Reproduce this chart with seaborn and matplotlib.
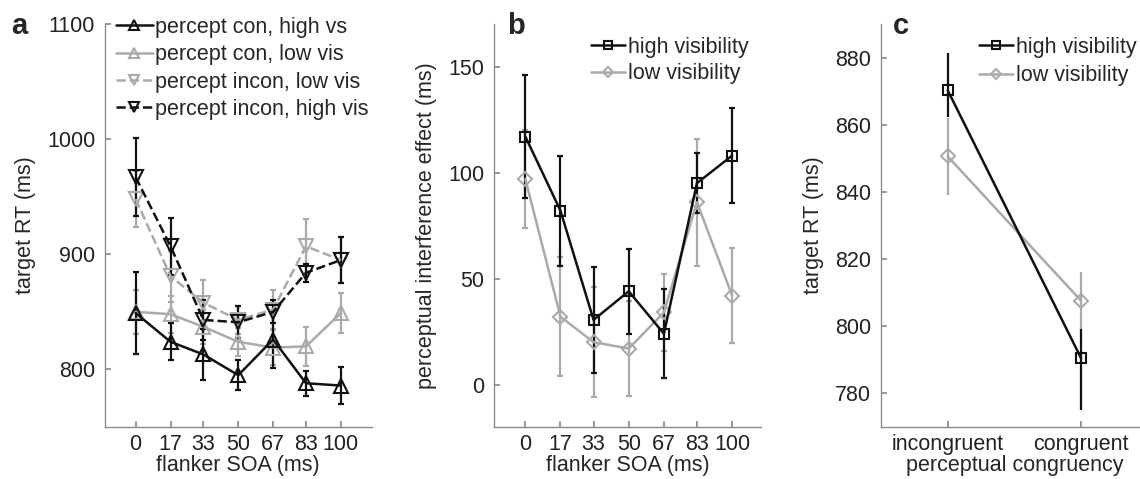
import matplotlib
matplotlib.use('Agg')
import matplotlib.pyplot as plt
import seaborn as sns
import numpy as np

# panel a/b x values (flanker SOA, ms)
soa = [0, 17, 33, 50, 67, 83, 100]
soa_labels = ['0', '17', '33', '50', '67', '83', '100']

# panel a: target RT (ms)
con_high = [849, 824, 813, 795, 826, 788, 786]
con_high_err = [36, 16, 22, 13, 25, 11, 16]
con_low = [850, 848, 837, 824, 819, 820, 849]
con_low_err = [19, 16, 15, 12, 15, 17, 17]
incon_low = [948, 881, 858, 843, 852, 907, 895]
incon_low_err = [24, 22, 20, 12, 17, 24, 20]
incon_high = [967, 907, 843, 841, 850, 884, 895]
incon_high_err = [34, 25, 17, 14, 10, 8, 20]

# panel b: perceptual interference effect (ms)
pie_high = [117, 82, 30.5, 44, 24, 95, 108]
pie_high_err = [29, 26, 25, 20, 21, 14, 22.5]
pie_low = [97, 32, 20, 17, 34, 86, 42]
pie_low_err = [23, 28, 26, 22.5, 18, 30, 22.5]

# panel c: target RT by perceptual congruency
cong_labels = ['incongruent', 'congruent']
c_high = [870.3, 790.5]
c_high_lo = [8, 15.5]
c_high_hi = [11.2, 8.8]
c_low = [850.6, 807.6]
c_low_lo = [11.4, 8.6]
c_low_hi = [11.4, 8.6]

BLACK = '#111111'
GRAY = '#aaaaaa'
SPINE = '#8c8c8c'
FS = 15.5

sns.set_theme(style='ticks')
plt.rcParams['font.family'] = ['Liberation Sans', 'DejaVu Sans']
plt.rcParams['font.size'] = FS

fig = plt.figure(figsize=(11.4, 4.79), dpi=100)
w, h, bot = 0.234, 0.841, 0.1086
ax_a = fig.add_axes([0.092, bot, w, h])
ax_b = fig.add_axes([0.4336, bot, w, h])
ax_c = fig.add_axes([0.7728, bot, w, h])


def draw(ax, x, y, err, color, marker, ms, ls, label):
    err = np.asarray(err)
    ax.errorbar(x, y, yerr=err, fmt='none', ecolor=color, elinewidth=1.6,
                capsize=2, capthick=1.6, zorder=2)
    sns.lineplot(x=x, y=y, ax=ax, color=color, marker=marker, markersize=ms,
                 markerfacecolor='none', markeredgecolor=color,
                 markeredgewidth=1.5, linestyle=ls, linewidth=1.8,
                 label=label, zorder=3)


def style_axis(ax):
    sns.despine(ax=ax)
    for s in ['left', 'bottom']:
        ax.spines[s].set_color(SPINE)
        ax.spines[s].set_linewidth(1.0)
    ax.tick_params(direction='in', length=4, color=SPINE, labelsize=FS,
                   labelcolor='#222222', pad=7)
    ax.tick_params(axis='x', pad=5)
    ax.yaxis.label.set_size(FS)
    ax.xaxis.label.set_size(FS)


# panel a
draw(ax_a, soa, con_low, con_low_err, GRAY, '^', 10, '-', 'percept con, low vis')
draw(ax_a, soa, incon_low, incon_low_err, GRAY, 'v', 10, '--', 'percept incon, low vis')
draw(ax_a, soa, con_high, con_high_err, BLACK, '^', 10, '-', 'percept con, high vs')
draw(ax_a, soa, incon_high, incon_high_err, BLACK, 'v', 10, '--', 'percept incon, high vis')
ax_a.set_xlim(-15, 115)
ax_a.set_ylim(750, 1100)
ax_a.set_yticks([800, 900, 1000, 1100])
ax_a.set_xticks(soa)
ax_a.set_xticklabels(soa_labels)
ax_a.set_xlabel('flanker SOA (ms)', labelpad=0)
ax_a.set_ylabel('target RT (ms)', labelpad=8)
hd, lb = ax_a.get_legend_handles_labels()
order = [2, 0, 1, 3]
ax_a.legend([hd[i] for i in order], [lb[i] for i in order], loc='upper left',
            bbox_to_anchor=(0.01, 1.04), frameon=False, fontsize=FS,
            handlelength=1.7, handletextpad=0.1, labelspacing=0.3,
            borderaxespad=0, markerscale=0.7)
style_axis(ax_a)

# panel b
draw(ax_b, soa, pie_low, pie_low_err, GRAY, 'D', 7, '-', 'low visibility')
draw(ax_b, soa, pie_high, pie_high_err, BLACK, 's', 7, '-', 'high visibility')
ax_b.set_xlim(-15, 114)
ax_b.set_ylim(-20, 170)
ax_b.set_yticks([0, 50, 100, 150])
ax_b.set_xticks(soa)
ax_b.set_xticklabels(soa_labels)
ax_b.set_xlabel('flanker SOA (ms)', labelpad=0)
ax_b.set_ylabel('perceptual interference effect (ms)', labelpad=8)
hd, lb = ax_b.get_legend_handles_labels()
ax_b.legend(hd[::-1], lb[::-1], loc='upper left', bbox_to_anchor=(0.33, 0.99),
            frameon=False, fontsize=FS, handlelength=1.6, handletextpad=0.1,
            labelspacing=0.25, borderaxespad=0, markerscale=0.8)
style_axis(ax_b)

# panel c
xc = [0, 1]
ax_c.errorbar(xc, c_low, yerr=[c_low_lo, c_low_hi], fmt='none', ecolor=GRAY,
              elinewidth=1.6, capsize=0, zorder=2)
sns.lineplot(x=xc, y=c_low, ax=ax_c, color=GRAY, marker='D', markersize=7,
             markerfacecolor='none', markeredgecolor=GRAY, markeredgewidth=1.5,
             linewidth=1.8, label='low visibility', zorder=3)
ax_c.errorbar(xc, c_high, yerr=[c_high_lo, c_high_hi], fmt='none', ecolor=BLACK,
              elinewidth=1.6, capsize=0, zorder=2)
sns.lineplot(x=xc, y=c_high, ax=ax_c, color=BLACK, marker='s', markersize=7,
             markerfacecolor='none', markeredgecolor=BLACK, markeredgewidth=1.5,
             linewidth=1.8, label='high visibility', zorder=3)
ax_c.set_xlim(-0.5, 1.5)
ax_c.set_ylim(770, 890)
ax_c.set_yticks([780, 800, 820, 840, 860, 880])
ax_c.set_xticks(xc)
ax_c.set_xticklabels(cong_labels)
ax_c.set_xlabel('perceptual congruency', labelpad=0)
ax_c.set_ylabel('target RT (ms)', labelpad=8)
hd, lb = ax_c.get_legend_handles_labels()
ax_c.legend(hd[::-1], lb[::-1], loc='upper left', bbox_to_anchor=(0.335, 0.99),
            frameon=False, fontsize=FS, handlelength=1.6, handletextpad=0.1,
            labelspacing=0.35, borderaxespad=0, markerscale=0.8)
style_axis(ax_c)

# panel letters
fig.text(0.010, 0.930, 'a', fontsize=21, fontweight='bold')
fig.text(0.445, 0.930, 'b', fontsize=21, fontweight='bold')
fig.text(0.783, 0.930, 'c', fontsize=21, fontweight='bold')

fig.savefig('out.png', dpi=100)
